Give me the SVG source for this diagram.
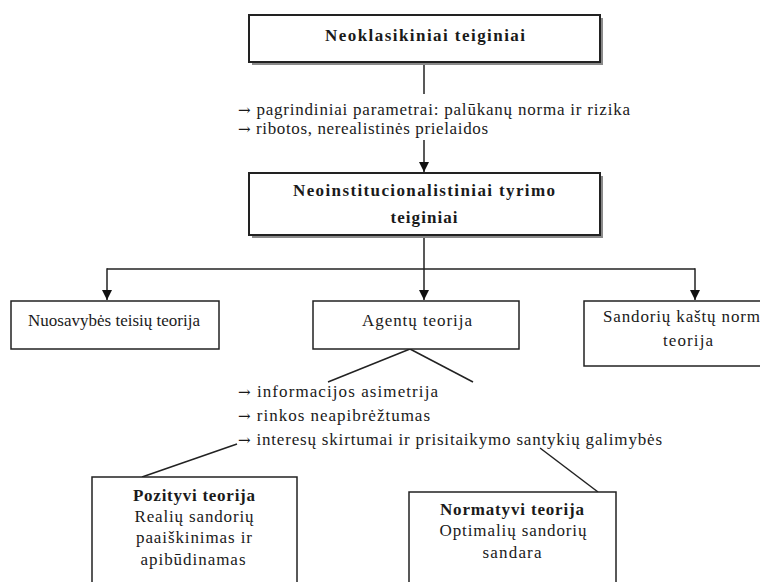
<svg xmlns="http://www.w3.org/2000/svg" width="760" height="582" viewBox="0 0 760 582">
  <style>
    .t { font-family: "Liberation Serif", "Times New Roman", serif; font-size: 17px; fill: #1a1a1a; }
    .b { font-weight: bold; font-size: 17px; }
    .m { text-anchor: middle; }
    .ar { font-family: "DejaVu Serif", serif; font-size: 15px; }
    .box { fill: #fff; stroke: #222; stroke-width: 1.5; }
    .main { fill: #fff; stroke: #222; stroke-width: 2; }
    .shadow { fill: #8a8a8a; }
    .ln { stroke: #222; stroke-width: 1.5; fill: none; }
  </style>
  <defs>
    <marker id="ah" viewBox="0 0 10 10" refX="10" refY="5" markerWidth="10" markerHeight="10" markerUnits="userSpaceOnUse" orient="auto">
      <path d="M0,0 L10,5 L0,10 Z" fill="#111"/>
    </marker>
  </defs>
  <rect width="760" height="582" fill="#fff"/>

  <g id="connectors">
    <line class="ln" x1="424" y1="63" x2="424" y2="94"/>
    <line class="ln" x1="424" y1="140" x2="424" y2="172" marker-end="url(#ah)"/>
    <line class="ln" x1="424" y1="236" x2="424" y2="300" marker-end="url(#ah)"/>
    <line class="ln" x1="107" y1="269" x2="695" y2="269"/>
    <line class="ln" x1="107" y1="268.25" x2="107" y2="300" marker-end="url(#ah)"/>
    <line class="ln" x1="695" y1="268.25" x2="695" y2="300" marker-end="url(#ah)"/>
    <line class="ln" x1="410" y1="349" x2="328" y2="382"/>
    <line class="ln" x1="410" y1="349" x2="473" y2="382"/>
    <line class="ln" x1="237" y1="444" x2="142" y2="477"/>
    <line class="ln" x1="540" y1="448" x2="598" y2="492"/>
  </g>

  <g id="neoklasikiniai">
    <rect class="shadow" x="252" y="18" width="351" height="47"/>
    <rect class="main" x="249" y="15" width="351" height="47"/>
    <text class="t b m" x="425" y="41" textLength="200" lengthAdjust="spacing">Neoklasikiniai teiginiai</text>
  </g>

  <g id="neoklasikiniai-notes">
    <text class="t" x="238" y="115" textLength="392" lengthAdjust="spacing"><tspan class="ar">→</tspan> pagrindiniai parametrai: palūkanų norma ir rizika</text>
    <text class="t" x="238" y="134" textLength="250" lengthAdjust="spacing"><tspan class="ar">→</tspan> ribotos, nerealistinės prielaidos</text>
  </g>

  <g id="neoinstitucionalistiniai">
    <rect class="shadow" x="252" y="176" width="351" height="62"/>
    <rect class="main" x="249" y="173" width="351" height="62"/>
    <text class="t b m" x="424" y="196" textLength="262" lengthAdjust="spacing">Neoinstitucionalistiniai tyrimo</text>
    <text class="t b m" x="424" y="223" textLength="67" lengthAdjust="spacing">teiginiai</text>
  </g>

  <g id="nuosavybes">
    <rect class="box" x="11" y="301" width="208" height="48"/>
    <text class="t m" x="114" y="326" textLength="172" lengthAdjust="spacing">Nuosavybės teisių teorija</text>
  </g>

  <g id="agentu">
    <rect class="box" x="313" y="301" width="206" height="48"/>
    <text class="t m" x="417" y="326" textLength="110" lengthAdjust="spacing">Agentų teorija</text>
  </g>

  <g id="sandoriu">
    <rect class="box" x="584" y="301" width="200" height="65"/>
    <text class="t" x="603" y="322" textLength="157" lengthAdjust="spacing">Sandorių kaštų norm</text>
    <text class="t m" x="688" y="346" textLength="50" lengthAdjust="spacing">teorija</text>
  </g>

  <g id="agentu-notes">
    <text class="t" x="238" y="397" textLength="200" lengthAdjust="spacing"><tspan class="ar">→</tspan> informacijos asimetrija</text>
    <text class="t" x="238" y="421" textLength="192" lengthAdjust="spacing"><tspan class="ar">→</tspan> rinkos neapibrėžtumas</text>
    <text class="t" x="238" y="445" textLength="424" lengthAdjust="spacing"><tspan class="ar">→</tspan> interesų skirtumai ir prisitaikymo santykių galimybės</text>
  </g>

  <g id="pozityvi">
    <rect class="box" x="92" y="477" width="205" height="120"/>
    <text class="t b m" x="194" y="501" textLength="122" lengthAdjust="spacing">Pozityvi teorija</text>
    <text class="t m" x="194" y="522" textLength="119" lengthAdjust="spacing">Realių sandorių</text>
    <text class="t m" x="194" y="543" textLength="116" lengthAdjust="spacing">paaiškinimas ir</text>
    <text class="t m" x="193" y="565" textLength="105" lengthAdjust="spacing">apibūdinamas</text>
  </g>

  <g id="normatyvi">
    <rect class="box" x="409" y="492" width="207" height="110"/>
    <text class="t b m" x="512" y="515" textLength="144" lengthAdjust="spacing">Normatyvi teorija</text>
    <text class="t m" x="513" y="536" textLength="147" lengthAdjust="spacing">Optimalių sandorių</text>
    <text class="t m" x="512" y="558" textLength="59" lengthAdjust="spacing">sandara</text>
  </g>
</svg>
